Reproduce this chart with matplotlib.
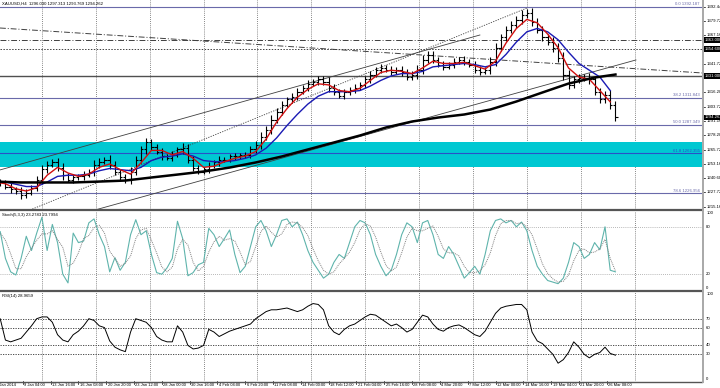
import matplotlib
matplotlib.use("Agg")
import matplotlib.pyplot as plt
import numpy as np
from matplotlib.transforms import blended_transform_factory as btf
from matplotlib.lines import Line2D

# ---------------- data ----------------
closes = [
    1236.6, 1236.6, 1233.0, 1230.4, 1228.6, 1225.9, 1227.7, 1232.1, 1239.2, 1248.1,
    1252.5, 1255.1, 1249.8, 1242.8, 1239.2, 1241.0, 1241.9, 1243.6, 1246.3, 1252.5,
    1255.1, 1256.9, 1252.5, 1246.3, 1241.0, 1239.2, 1246.3, 1256.9, 1265.8, 1272.0,
    1268.4, 1264.0, 1259.6, 1258.7, 1261.3, 1265.8, 1267.5, 1256.9, 1249.8, 1246.3,
    1248.1, 1251.6, 1254.3, 1256.9, 1256.9, 1259.6, 1259.6, 1260.5, 1261.3, 1265.8,
    1270.2, 1277.3, 1283.5, 1292.3, 1299.4, 1305.6, 1310.1, 1312.7, 1317.1, 1320.7,
    1324.2, 1326.0, 1327.8, 1326.0, 1320.7, 1317.1, 1313.6, 1316.3, 1318.9, 1320.7,
    1323.3, 1327.8, 1332.2, 1336.6, 1338.4, 1336.6, 1334.8, 1336.6, 1334.0, 1330.4,
    1332.2, 1336.6, 1345.5, 1349.9, 1345.5, 1341.0, 1339.3, 1341.0, 1343.7, 1345.5,
    1343.7, 1341.0, 1336.6, 1334.8, 1336.6, 1343.7, 1356.1, 1365.0, 1372.0, 1376.5,
    1380.9, 1385.3, 1387.1, 1379.1, 1372.0, 1365.0, 1361.4, 1356.1, 1347.2, 1332.2,
    1323.3, 1327.8, 1329.5, 1329.5, 1327.8, 1317.1, 1310.1, 1314.5, 1305.6, 1294.3]
bar_ext = [
    2, 3, 2, 3, 2, 4, 3, 2, 3, 4, 3, 2, 3, 4, 2, 3, 2, 3, 2, 4,
    3, 2, 4, 3, 2, 3, 4, 3, 3, 4, 3, 2, 3, 2, 3, 2, 4, 3, 3, 2,
    2, 3, 2, 3, 2, 2, 3, 2, 2, 3, 3, 4, 3, 4, 3, 3, 2, 3, 3, 2,
    3, 2, 3, 3, 4, 3, 2, 3, 2, 3, 2, 3, 3, 2, 3, 2, 3, 2, 3, 3,
    3, 4, 4, 3, 3, 2, 3, 2, 3, 2, 3, 2, 3, 3, 2, 4, 4, 3, 3, 3,
    3, 4, 3, 4, 3, 3, 3, 4, 4, 5, 4, 3, 3, 3, 4, 3, 3, 3, 4, 3]

ma_fast = [
    1237, 1235.5, 1231, 1229, 1232, 1243, 1250, 1245, 1242, 1244,
    1250, 1253, 1248, 1244, 1254, 1265, 1265, 1261, 1264, 1258,
    1250, 1251, 1255, 1258, 1260, 1264, 1275, 1290, 1302, 1312,
    1319, 1324, 1323, 1318, 1317, 1320, 1327, 1334, 1336, 1335,
    1333, 1338, 1344, 1342, 1342, 1343, 1340, 1337, 1344, 1360,
    1373, 1381, 1378, 1368, 1356, 1338, 1330, 1328, 1318, 1308]
ma_mid = [
    1238, 1237, 1235, 1233, 1233, 1237, 1242, 1243, 1243, 1244,
    1247, 1249, 1248, 1247, 1250, 1256, 1259, 1260, 1262, 1260,
    1256, 1255, 1255, 1256, 1258, 1261, 1267, 1276, 1287, 1297,
    1306, 1313, 1317, 1317, 1317, 1318, 1322, 1327, 1331, 1333,
    1333, 1335, 1339, 1340, 1341, 1342, 1341, 1339, 1341, 1350,
    1361, 1370, 1373, 1370, 1363, 1352, 1342, 1336, 1330, 1318]
ma_slow = [1237.4, 1236.6, 1236.6, 1236.6, 1237.4, 1238.3, 1241.0, 1243.6, 1246.3,
           1249.8, 1254.3, 1259.6, 1265.8, 1272.0, 1278.2, 1285.3, 1290.6, 1294.1,
           1296.8, 1301.2, 1308.3, 1316.3, 1324.2, 1329.5, 1332.2]
ma_slow_pos = [0, 5, 10, 15, 20, 25, 30, 35, 40, 45, 50, 55, 60, 65, 70, 75, 80, 85,
               90, 95, 100, 105, 110, 115, 119]

stoch_k = [
    74, 74, 40, 23, 19, 40, 68, 50, 72, 92, 50, 83, 60, 20, 9, 72, 60, 62, 85, 90,
    70, 55, 23, 41, 25, 35, 70, 89, 70, 75, 45, 22, 20, 28, 40, 87, 65, 18, 22, 32,
    35, 78, 70, 55, 65, 76, 45, 22, 30, 55, 80, 88, 75, 55, 70, 88, 90, 80, 86, 70,
    50, 35, 25, 15, 20, 35, 45, 40, 60, 80, 88, 85, 70, 45, 30, 18, 25, 45, 70, 85,
    80, 60, 85, 88, 70, 45, 40, 55, 45, 30, 15, 22, 30, 20, 45, 75, 88, 90, 85, 88,
    80, 86, 75, 50, 30, 20, 12, 10, 8, 15, 35, 60, 55, 40, 45, 60, 51, 80, 25, 23]
stoch_d = [
    70, 72, 63, 46, 27, 27, 42, 53, 63, 71, 71, 75, 64, 54, 30, 34, 47, 65, 69, 79,
    82, 72, 49, 40, 30, 34, 43, 65, 76, 78, 63, 47, 29, 23, 29, 52, 64, 57, 35, 24,
    30, 48, 61, 68, 63, 65, 62, 48, 32, 36, 55, 74, 81, 73, 67, 71, 83, 86, 85, 79,
    69, 52, 37, 25, 20, 23, 33, 40, 48, 60, 76, 84, 81, 67, 48, 31, 24, 29, 47, 67,
    78, 75, 75, 78, 81, 68, 52, 47, 47, 43, 30, 22, 22, 24, 32, 47, 69, 84, 88, 88,
    84, 85, 80, 70, 52, 33, 21, 14, 10, 11, 19, 37, 50, 52, 47, 48, 52, 64, 40, 24]
rsi = [
    66, 70, 46, 44, 46, 48, 55, 62, 70, 72, 72, 66, 52, 46, 44, 52, 56, 62, 70, 68,
    62, 60, 45, 38, 35, 33, 55, 70, 68, 66, 60, 50, 46, 44, 44, 62, 55, 40, 36, 37,
    40, 58, 55, 50, 53, 56, 58, 60, 62, 64, 70, 74, 78, 80, 80, 81, 82, 80, 78, 80,
    84, 87, 86, 80, 62, 55, 52, 58, 62, 64, 68, 72, 75, 74, 70, 66, 62, 64, 60, 55,
    58, 66, 74, 72, 64, 58, 56, 60, 62, 63, 60, 56, 52, 50, 56, 66, 76, 82, 84, 85,
    86, 86, 80, 55, 45, 42, 36, 30, 20, 24, 32, 44, 38, 30, 26, 30, 32, 38, 31, 29]

time_labels = ["6 Jan 2014", "9 Jan 04:00", "13 Jan 16:00", "16 Jan 08:00", "20 Jan 20:00",
               "23 Jan 12:00", "28 Jan 00:00", "30 Jan 16:00", "4 Feb 04:00", "6 Feb 20:00",
               "11 Feb 08:00", "14 Feb 00:00", "18 Feb 12:00", "21 Feb 04:00", "25 Feb 16:00",
               "28 Feb 08:00", "4 Mar 20:00", "7 Mar 12:00", "12 Mar 00:00", "14 Mar 16:00",
               "19 Mar 04:00", "21 Mar 20:00", "26 Mar 08:00"]
price_ticks = [1392.44, 1379.72, 1367.16, 1354.48, 1341.72, 1329.16, 1316.28, 1303.72,
               1291.16, 1278.28, 1265.72, 1253.16, 1240.60, 1227.72, 1215.16]
fib_levels = [1392.187, 1311.843, 1287.349, 1262.355, 1226.956]
fib_names = ["0.0", "38.2", "50.0", "61.8", "78.6"]
zone = (1250.0, 1272.0)
hline_solid = 1331.0
hline_dashdot = 1363.0
hline_dot = 1354.6
sloped_line = (1373.4, 1333.6)
# trend lines: (bar index start, price start, bar index end, price end)
trend_solid = [(2.9, 1247.7, 279.0, 1367.2), (57.5, 1212.2, 368.8, 1345.1)]
trend_dotted = [(20.1, 1212.2, 306.1, 1391.1)]
last_price = 1294.262

# ---------------- layout ----------------
W, H = 720, 388
fig = plt.figure(figsize=(7.2, 3.88), dpi=100)
plt.rcParams['font.family'] = ['Liberation Sans', 'DejaVu Sans']
FS = 3.1

def rect(y0, y1, x0=0, x1=702):
    return [x0 / W, 1 - y1 / H, (x1 - x0) / W, (y1 - y0) / H]

ax = fig.add_axes(rect(0, 209))
ax_s = fig.add_axes(rect(211, 290))
ax_r = fig.add_axes(rect(292, 381))

N = len(closes)
xb = np.arange(N) * 3.0
XL = (2.88, 406.8)
for a in (ax, ax_s, ax_r):
    a.set_xlim(*XL)
    a.set_xticks([])
    a.set_yticks([])
    for s in a.spines.values():
        s.set_visible(False)
    a.patch.set_alpha(0)

ax.set_ylim(1213.1, 1398.2)
ax_s.set_ylim(0, 100)
ax_r.set_ylim(0, 100)

# vertical grid
grid_x = [27 + 31 * k for k in range(12)]
for a in (ax, ax_s, ax_r):
    for gx in grid_x:
        a.axvline(gx, color='#606060', lw=0.6, ls=(0, (1, 1.5)), zorder=0)

# main panel
ax.axhspan(zone[0], zone[1], color='#00c8d2', lw=0, zorder=1)
fib_col = '#6a6aaa'
for lv, nm in zip(fib_levels, fib_names):
    c = '#2a50c8' if nm == "61.8" else fib_col
    ax.axhline(lv, color=c, lw=0.8, zorder=2)
    ax.text(405.5, lv + 0.6, f"{nm} {lv:.3f}", color=c, fontsize=FS, ha='right', va='bottom', zorder=6)
ax.axhline(hline_solid, color='#505050', lw=1.0, zorder=2)
ax.axhline(hline_dashdot, color='#404040', lw=0.7, ls=(0, (6, 2, 1, 2)), zorder=2)
ax.axhline(hline_dot, color='#404040', lw=0.7, ls=(0, (1.5, 1.5)), zorder=2)
ax.plot(XL, sloped_line, color='#404040', lw=0.7, ls=(0, (6, 2, 1, 2)), zorder=2)
for x0, p0, x1, p1 in trend_solid:
    ax.plot([x0, x1], [p0, p1], color='#404040', lw=0.6, zorder=2)
for x0, p0, x1, p1 in trend_dotted:
    ax.plot([x0, x1], [p0, p1], color='#404040', lw=0.6, ls=(0, (1.5, 1.5)), zorder=2)

opens = [closes[0]] + closes[:-1]
highs = [max(o, c) + e for o, c, e in zip(opens, closes, bar_ext)]
lows = [min(o, c) - e for o, c, e in zip(opens, closes, bar_ext)]
ax.vlines(xb, lows, highs, color='black', lw=0.8, zorder=4)
ax.hlines(closes, xb, xb + 1.3, color='black', lw=0.8, zorder=4)
ax.hlines(opens, xb - 1.3, xb, color='black', lw=0.8, zorder=4)

ax.plot(np.arange(0, N, 2) * 3.0, ma_mid, color='#1a1ab4', lw=1.0, zorder=5)
ax.plot(np.arange(0, N, 2) * 3.0, ma_fast, color='#d01010', lw=1.0, zorder=5)
ax.plot(np.array(ma_slow_pos) * 3.0, ma_slow, color='black', lw=1.8, zorder=5)

ax.text(4, 1397.0, "XAUUSD,H4  1296.030 1297.313 1293.769 1294.262", fontsize=FS, va='top', ha='left')

tr = btf(ax.transAxes, ax.transData)
for p in price_ticks:
    ax.text(1.006, p, f"{p:.3f}", transform=tr, fontsize=FS, va='center', ha='left', clip_on=False)
    ax.plot([1.0, 1.004], [p, p], transform=tr, color='black', lw=0.5, clip_on=False)
for p in (hline_dashdot, hline_dot, hline_solid, last_price):
    ax.text(1.004, p, f"{p:.3f}", transform=tr, fontsize=FS, va='center', ha='left', color='white',
            clip_on=False, zorder=10,
            bbox=dict(facecolor='black', edgecolor='none', pad=0.6))

# stochastic
for lv in (80, 20):
    ax_s.axhline(lv, color='#a0a0a0', lw=0.6, ls=(0, (1, 1.5)))
ax_s.plot(xb, stoch_k, color='#5fb4ac', lw=0.8)
ax_s.plot(xb, stoch_d, color='#808080', lw=0.7, ls=(0, (1, 1)))
ax_s.text(4, 98, "Stoch(5,3,3) 23.2783 23.7994", fontsize=FS, va='top', ha='left')
trs = btf(ax_s.transAxes, ax_s.transData)
for v, va in ((100, 'top'), (80, 'center'), (20, 'center'), (0, 'bottom')):
    ax_s.text(1.006, v, str(v), transform=trs, fontsize=FS, va=va, ha='left', clip_on=False)

# RSI
for lv in (70, 60, 40, 30):
    ax_r.axhline(lv, color='#303030', lw=0.6, ls=(0, (1.5, 1.5)))
ax_r.plot(xb, rsi, color='black', lw=0.7)
ax_r.text(4, 98, "RSI(14) 28.9659", fontsize=FS, va='top', ha='left')
trr = btf(ax_r.transAxes, ax_r.transData)
for v, va in ((100, 'top'), (70, 'center'), (60, 'center'), (40, 'center'), (30, 'center'), (0, 'bottom')):
    ax_r.text(1.006, v, str(v), transform=trr, fontsize=FS, va=va, ha='left', clip_on=False)

# time axis
trx = btf(ax_r.transData, ax_r.transAxes)
for k, lab in enumerate(time_labels):
    ax_r.text(16 * k + 0.8, -0.025, lab, transform=trx, fontsize=2.9, va='top', ha='left', clip_on=False)
    ax_r.plot([16 * k, 16 * k], [0, -0.03], transform=trx, color='black', lw=0.5, clip_on=False)

# separators and frame
def hl(y, lw, col):
    fig.add_artist(Line2D([0, 702 / W], [1 - y / H, 1 - y / H], color=col, lw=lw))
hl(209.8, 1.6, '#555555')
hl(290.8, 1.6, '#555555')
hl(381.5, 1.0, '#555555')
fig.add_artist(Line2D([702.5 / W, 702.5 / W], [1 - 382 / H, 1], color='#a8a8a8', lw=1.4))

fig.savefig("out.png", dpi=100, facecolor='white')
